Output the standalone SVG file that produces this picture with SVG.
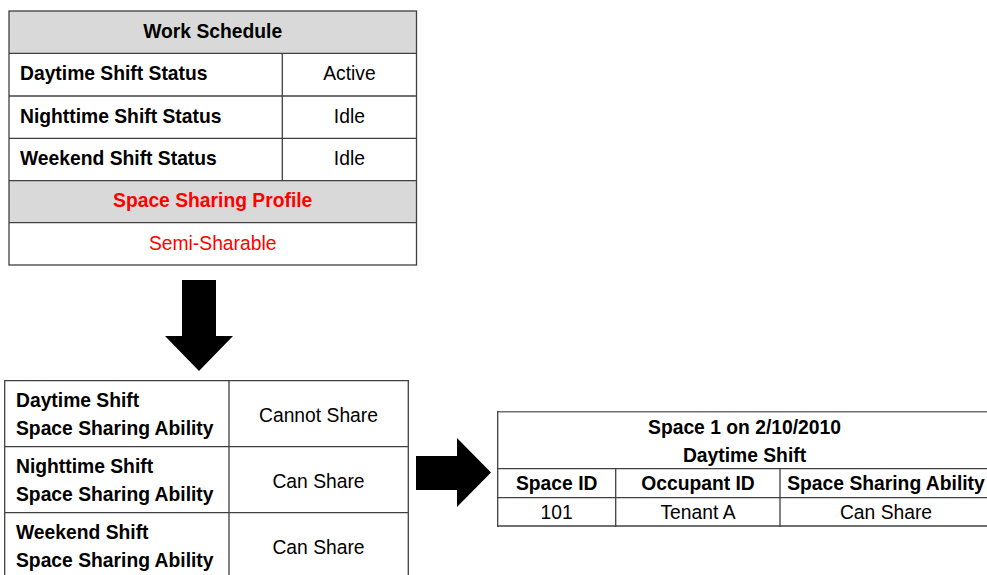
<svg xmlns="http://www.w3.org/2000/svg" width="987" height="575" viewBox="0 0 987 575">
<style>
  text { font-family: "Liberation Sans", Arial, sans-serif; font-size: 19.3px; fill: #000; }
  .b { font-weight: bold; }
  .c { text-anchor: middle; }
  .red { fill: #ff0000; }
  .grid { stroke: #404040; stroke-width: 1.3; fill: none; }
  .hdr { fill: #d9d9d9; }
  .arrow { fill: #000; }
</style>
<rect width="987" height="575" fill="#fff"/>

<g id="work-schedule">
  <rect class="hdr" x="9" y="11" width="407.5" height="42.3"/>
  <rect class="hdr" x="9" y="180.7" width="407.5" height="42"/>
  <rect class="grid" x="9" y="11" width="407.5" height="254"/>
  <line class="grid" x1="9" y1="53.3" x2="416.5" y2="53.3"/>
  <line class="grid" x1="9" y1="96" x2="416.5" y2="96"/>
  <line class="grid" x1="9" y1="138.3" x2="416.5" y2="138.3"/>
  <line class="grid" x1="9" y1="180.7" x2="416.5" y2="180.7"/>
  <line class="grid" x1="9" y1="222.7" x2="416.5" y2="222.7"/>
  <line class="grid" x1="282.3" y1="53.3" x2="282.3" y2="180.7"/>
  <text class="b c" x="212.7" y="37.7">Work Schedule</text>
  <text class="b" x="20" y="80">Daytime Shift Status</text>
  <text class="c" x="349.4" y="80">Active</text>
  <text class="b" x="20" y="123">Nighttime Shift Status</text>
  <text class="c" x="349.4" y="123">Idle</text>
  <text class="b" x="20" y="165">Weekend Shift Status</text>
  <text class="c" x="349.4" y="165">Idle</text>
  <text class="b c red" x="212.7" y="207">Space Sharing Profile</text>
  <text class="c red" x="212.7" y="249.5">Semi-Sharable</text>
</g>

<g id="sharing-ability">
  <line class="grid" x1="4.7" y1="380.7" x2="408.3" y2="380.7"/>
  <line class="grid" x1="4.7" y1="446.7" x2="408.3" y2="446.7"/>
  <line class="grid" x1="4.7" y1="512.7" x2="408.3" y2="512.7"/>
  <line class="grid" x1="4.7" y1="380" x2="4.7" y2="580"/>
  <line class="grid" x1="229" y1="380" x2="229" y2="580"/>
  <line class="grid" x1="408.3" y1="380" x2="408.3" y2="580"/>
  <text class="b" x="16" y="407.3">Daytime Shift</text>
  <text class="b" x="16" y="435">Space Sharing Ability</text>
  <text class="c" x="318.5" y="421.7">Cannot Share</text>
  <text class="b" x="16" y="473.3">Nighttime Shift</text>
  <text class="b" x="16" y="501">Space Sharing Ability</text>
  <text class="c" x="318.5" y="488.3">Can Share</text>
  <text class="b" x="16" y="539.3">Weekend Shift</text>
  <text class="b" x="16" y="567.3">Space Sharing Ability</text>
  <text class="c" x="318.5" y="554">Can Share</text>
</g>

<g id="space-table">
  <line x1="497.7" y1="411.7" x2="992" y2="411.7" stroke="#707070" stroke-width="1.5"/>
  <line class="grid" x1="497.7" y1="468.7" x2="992" y2="468.7"/>
  <line class="grid" x1="497.7" y1="497.7" x2="992" y2="497.7"/>
  <line x1="497.7" y1="526" x2="992" y2="526" stroke="#707070" stroke-width="2"/>
  <line class="grid" x1="497.7" y1="411" x2="497.7" y2="527"/>
  <line class="grid" x1="615.7" y1="468.7" x2="615.7" y2="527"/>
  <line class="grid" x1="780" y1="468.7" x2="780" y2="527"/>
  <text class="b c" x="744.5" y="434.3">Space 1 on 2/10/2010</text>
  <text class="b c" x="744.5" y="461.7">Daytime Shift</text>
  <text class="b c" x="556.7" y="490">Space ID</text>
  <text class="b c" x="698" y="490">Occupant ID</text>
  <text class="b c" x="886" y="490">Space Sharing Ability</text>
  <text class="c" x="556.7" y="519.3">101</text>
  <text class="c" x="698" y="519.3">Tenant A</text>
  <text class="c" x="886" y="519.3">Can Share</text>
</g>

<g id="connectors">
  <polygon class="arrow" points="182,280 216,280 216,336 233,336 199,371 165,336 182,336"/>
  <polygon class="arrow" points="416,456 457,456 457,438 491,472.5 457,507 457,490 416,490"/>
</g>
</svg>
